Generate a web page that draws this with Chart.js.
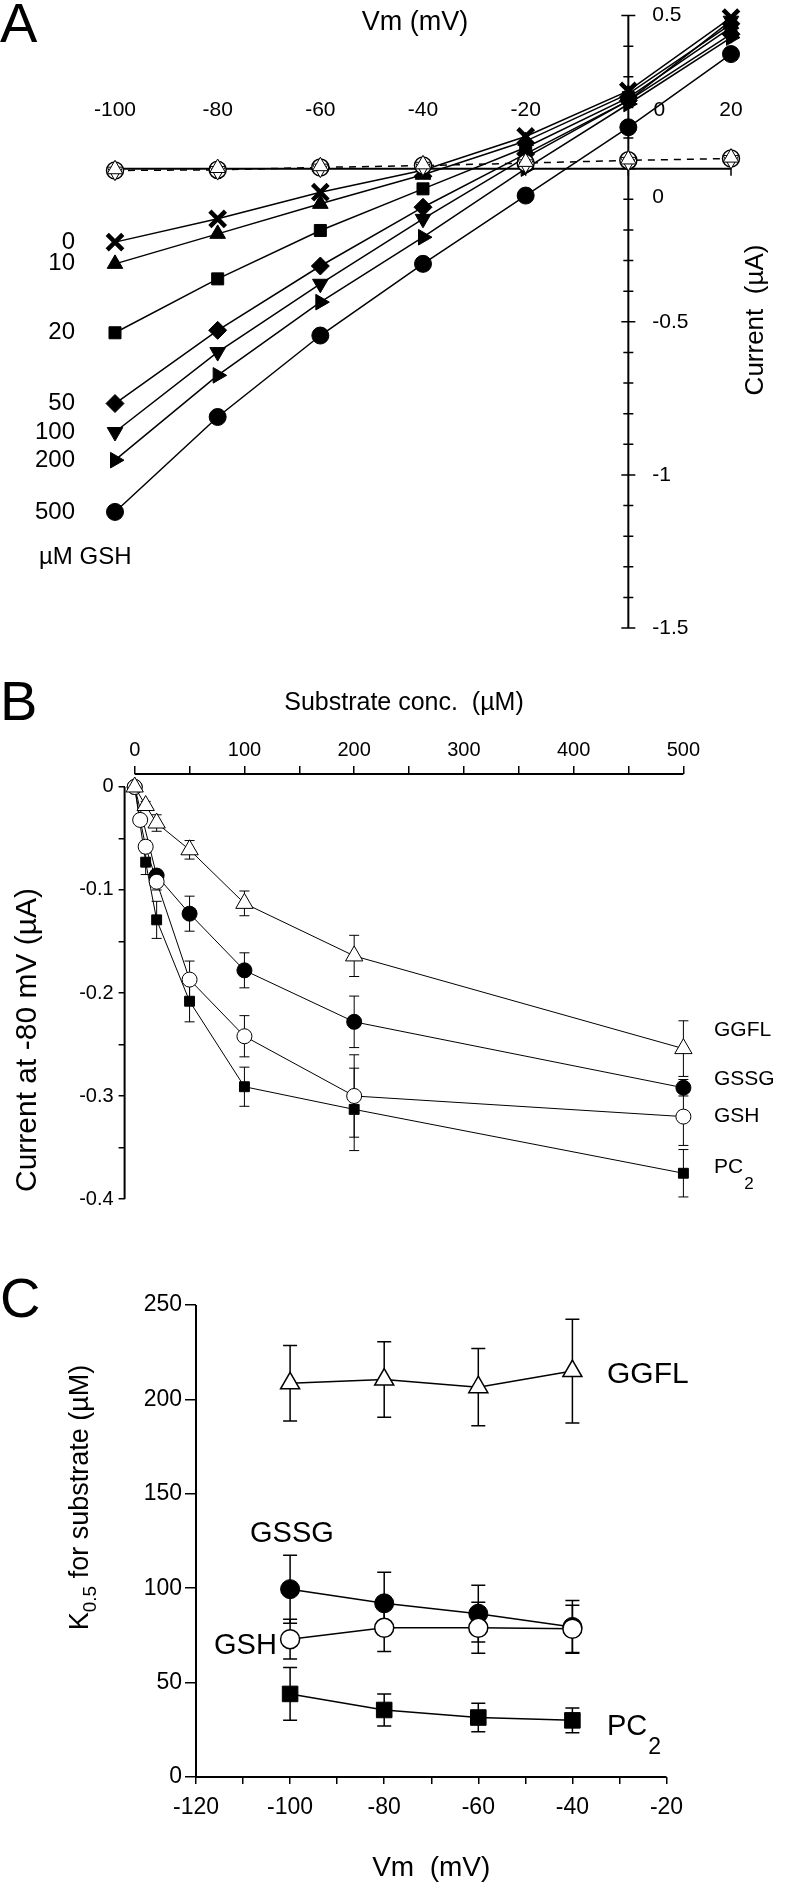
<!DOCTYPE html>
<html>
<head>
<meta charset="utf-8">
<title>GSH currents</title>
<script src="https://cdn.jsdelivr.net/npm/chart.js@4.4.1/dist/chart.umd.min.js"></script>
<style>
  body { margin: 0; background: #fff; }
  #page { position: relative; width: 787px; height: 1885px; overflow: hidden; }
  #page canvas { position: absolute; left: 0; }
</style>
</head>
<body>
<div id="page">
  <canvas id="chartA" width="787" height="660" style="top:0"></canvas>
  <canvas id="chartB" width="787" height="600" style="top:660px"></canvas>
  <canvas id="chartC" width="787" height="635" style="top:1250px"></canvas>
</div>
<script>
// ---- panel A: I-V curves, one per GSH concentration
const vmA = [-100, -80, -60, -40, -20, 0, 20];
const vmTickLabelsA = ["-100", "-80", "-60", "-40", "-20", "0", "20"];
const currentTicksA = [0.5, 0, -0.5, -1, -1.5];
const currentTickLabelsA = ["0.5", "0", "-0.5", "-1", "-1.5"];
const gshConcs = ["0", "10", "20", "50", "100", "200", "500"];
const iGsh0 = [-0.240, -0.164, -0.077, -0.005, 0.105, 0.254, 0.493];
const iGsh10 = [-0.311, -0.213, -0.115, -0.020, 0.090, 0.244, 0.472];
const iGsh20 = [-0.536, -0.360, -0.202, -0.066, 0.069, 0.232, 0.461];
const iGsh50 = [-0.767, -0.528, -0.318, -0.126, 0.048, 0.222, 0.439];
const iGsh100 = [-0.860, -0.599, -0.376, -0.164, 0.037, 0.222, 0.483];
const iGsh200 = [-0.952, -0.675, -0.436, -0.224, 0.000, 0.211, 0.428];
const iGsh500 = [-1.121, -0.811, -0.545, -0.311, -0.088, 0.135, 0.374];
const iCtrlCircle = [-0.006, -0.004, 0.004, 0.010, 0.018, 0.027, 0.033];
const iCtrlUp = [-0.002, 0.002, 0.008, 0.014, 0.022, 0.030, 0.036];
const iCtrlDown = [-0.010, -0.008, 0.000, 0.006, 0.014, 0.022, 0.028];

// ---- panel B: current at -80 mV vs substrate concentration
const concB = [0, 5, 10, 20, 50, 100, 200, 500];
const concTicksB = [0, 50, 100, 150, 200, 250, 300, 350, 400, 450, 500];
const currentTicksB = [0, -0.05, -0.1, -0.15, -0.2, -0.25, -0.3, -0.35, -0.4];
const currentLabelValsB = [0, -0.1, -0.2, -0.3, -0.4];
const currentLabelsB = ["0", "-0.1", "-0.2", "-0.3", "-0.4"];
const ggflB = [0, null, -0.018, -0.035, -0.061, -0.113, -0.164, -0.254];
const gssgB = [0, null, null, -0.086, -0.123, -0.178, -0.228, -0.292];
const gshB = [0, -0.032, -0.058, -0.092, -0.187, -0.242, -0.300, -0.320];
const pc2B = [0, null, -0.073, -0.129, -0.208, -0.291, -0.313, -0.375];
const ggflErrB = [0, 0, 0.004, 0.008, 0.009, 0.012, 0.020, 0.027];
const gssgErrB = [0, 0, 0, 0.005, 0.017, 0.017, 0.025, 0.008];
const gshErrB = [0, 0.004, 0.006, 0.008, 0.018, 0.020, 0.040, 0.028];
const pc2ErrB = [0, 0, 0.012, 0.018, 0.020, 0.019, 0.040, 0.023];

// ---- panel C: K0.5 vs membrane potential
const vmC = [-100, -80, -60, -40];
const vmTicksC = [-120, -110, -100, -90, -80, -70, -60, -50, -40, -30, -20];
const kTicksC = [0, 50, 100, 150, 200, 250];
const ggflC = [208.5, 210.5, 206.5, 215];
const gssgC = [99.5, 92, 86.5, 79.5];
const gshC = [73, 79, 79, 78.5];
const pc2C = [44, 35.5, 31.5, 30];
const ggflErrC = [20, 20, 20.5, 27.5];
const gssgErrC = [18, 16.5, 15, 14];
const gshErrC = [10.5, 12.5, 13.5, 12.5];
const pc2ErrC = [14, 8.5, 7.5, 6.5];

const FONT = '"Liberation Sans", Arial, Helvetica, sans-serif';
Chart.defaults.font.family = FONT;
Chart.defaults.color = "#000";
Chart.defaults.animation = false;
Chart.defaults.plugins.legend.display = false;
Chart.defaults.plugins.tooltip.enabled = false;

function put(ctx, s, x, y, size, align, rot, base) {
  ctx.save();
  ctx.translate(x, y);
  if (rot) ctx.rotate(rot);
  ctx.font = size + "px " + FONT;
  ctx.fillStyle = "#000";
  ctx.textAlign = align || "left";
  ctx.textBaseline = base || "middle";
  ctx.fillText(s, 0, 0);
  ctx.restore();
}

// text with a subscript, left aligned, y = middle of the main text
function putSub(ctx, main, sub, x, y, size, subSize, dy) {
  ctx.save();
  ctx.font = size + "px " + FONT;
  const w = ctx.measureText(main).width;
  ctx.restore();
  put(ctx, main, x, y, size, "left");
  put(ctx, sub, x + w + 1, y + dy, subSize, "left");
}

function series(xs, ys, style) {
  return Object.assign({
    data: xs.map((x, i) => ({ x: x, y: ys[i] })),
    borderColor: "#000",
    borderWidth: 1.5,
    pointBackgroundColor: "#000",
    pointBorderColor: "#000",
    pointBorderWidth: 1,
    spanGaps: true,
    clip: false,
  }, style);
}

const errorBars = {
  id: "errorBars",
  beforeDatasetsDraw(chart, args, opts) {
    const { ctx, scales: { x, y } } = chart;
    ctx.save();
    ctx.strokeStyle = "#000";
    ctx.lineWidth = opts.width;
    chart.data.datasets.forEach((ds) => {
      if (!ds.errors) return;
      ds.data.forEach((p, i) => {
        const e = ds.errors[i];
        if (p.y === null || !e) return;
        const px = x.getPixelForValue(p.x);
        const top = y.getPixelForValue(p.y + e);
        const bot = y.getPixelForValue(p.y - e);
        ctx.beginPath();
        ctx.moveTo(px, top); ctx.lineTo(px, bot);
        ctx.moveTo(px - opts.cap, top); ctx.lineTo(px + opts.cap, top);
        ctx.moveTo(px - opts.cap, bot); ctx.lineTo(px + opts.cap, bot);
        ctx.stroke();
      });
    });
    ctx.restore();
  },
};

// axis lines from the first to the last tick (panels B and C)
const axisLines = {
  id: "axisLines",
  beforeDatasetsDraw(chart) {
    const { ctx, chartArea, scales: { x, y } } = chart;
    const xt = x.ticks, yt = y.ticks;
    const xLineY = x.position === "top" ? chartArea.top : chartArea.bottom;
    ctx.save();
    ctx.strokeStyle = "#000";
    ctx.lineWidth = 2;
    ctx.beginPath();
    ctx.moveTo(x.getPixelForValue(xt[0].value), xLineY);
    ctx.lineTo(x.getPixelForValue(xt[xt.length - 1].value), xLineY);
    ctx.moveTo(chartArea.left, y.getPixelForValue(yt[0].value));
    ctx.lineTo(chartArea.left, y.getPixelForValue(yt[yt.length - 1].value));
    ctx.stroke();
    ctx.restore();
  },
};

// ================= panel A =================
const gshSeries = [iGsh0, iGsh10, iGsh20, iGsh50, iGsh100, iGsh200, iGsh500];
const gshStyles = [
  { pointStyle: "crossRot", pointRadius: 11, pointBorderWidth: 4.5 },
  { pointStyle: "triangle", pointRadius: 9 },
  { pointStyle: "rect", pointRadius: 8.5 },
  { pointStyle: "rectRot", pointRadius: 9 },
  { pointStyle: "triangle", pointRadius: 9, pointRotation: 180 },
  { pointStyle: "triangle", pointRadius: 9, pointRotation: 90 },
  { pointStyle: "circle", pointRadius: 8.5 },
];

const axesA = {
  id: "axesA",
  beforeDatasetsDraw(chart) {
    const { ctx, scales: { x, y } } = chart;
    const x0 = x.getPixelForValue(0), y0 = y.getPixelForValue(0);
    ctx.save();
    ctx.strokeStyle = "#000";
    ctx.lineWidth = 2;
    ctx.beginPath();
    ctx.moveTo(x0, y.getPixelForValue(0.5));
    ctx.lineTo(x0, y.getPixelForValue(-1.5));
    ctx.moveTo(x.getPixelForValue(vmA[0]), y0);
    ctx.lineTo(x.getPixelForValue(vmA[vmA.length - 1]), y0);
    ctx.stroke();
    ctx.lineWidth = 1.5;
    ctx.beginPath();
    for (let k = -15; k <= 5; k++) {
      const py = y.getPixelForValue(k / 10);
      const half = k % 5 === 0 ? 7 : 5;
      ctx.moveTo(x0 - half, py); ctx.lineTo(x0 + half, py);
    }
    vmA.forEach((v) => {
      const px = x.getPixelForValue(v);
      ctx.moveTo(px, y0 - 7); ctx.lineTo(px, y0 + 7);
    });
    ctx.stroke();
    ctx.restore();
  },
};

const textA = {
  id: "textA",
  afterDraw(chart) {
    const { ctx, scales: { x, y } } = chart;
    const x0 = x.getPixelForValue(0), y0 = y.getPixelForValue(0);
    put(ctx, "A", 0, 42, 56, "left", 0, "alphabetic");
    put(ctx, "Vm (mV)", 415, 23, 27, "center");
    vmA.forEach((v, i) => {
      const px = v === 0 ? x0 + 31 : x.getPixelForValue(v);
      put(ctx, vmTickLabelsA[i], px, y0 - 58, 21, "center");
    });
    currentTicksA.forEach((v, i) => {
      const py = v === 0 ? y0 + 29 : y.getPixelForValue(v);
      put(ctx, currentTickLabelsA[i], x0 + 24, py, 21, "left");
    });
    put(ctx, "Current  (\u00b5A)", 756, 320, 26, "center", -Math.PI / 2);
    gshSeries.forEach((s, i) => {
      put(ctx, gshConcs[i], 75, y.getPixelForValue(s[0]), 24, "right");
    });
    put(ctx, "\u00b5M GSH", 39, 557, 24, "left");
  },
};

const openMarker = { pointBackgroundColor: "#fff", showLine: false };
new Chart(document.getElementById("chartA"), {
  type: "line",
  data: {
    datasets: [
      series(vmA, iCtrlUp, Object.assign({ pointStyle: "triangle", pointRadius: 9 }, openMarker)),
      series(vmA, iCtrlDown, Object.assign({ pointStyle: "triangle", pointRadius: 9, pointRotation: 180 }, openMarker)),
      series(vmA, iCtrlCircle, { pointStyle: "circle", pointRadius: 8.5, pointBackgroundColor: "#fff",
        pointBorderWidth: 1.5, borderDash: [7, 6] }),
    ].concat(gshSeries.map((s, i) => series(vmA, s, gshStyles[i]))),
  },
  options: {
    responsive: false,
    devicePixelRatio: 1,
    layout: { padding: { left: 115, right: 56, top: 15, bottom: 32 } },
    scales: {
      x: { type: "linear", min: -100, max: 20, display: false },
      y: { type: "linear", min: -1.5, max: 0.5, display: false },
    },
  },
  plugins: [axesA, textA],
});

// ================= panel B =================
const textB = {
  id: "textB",
  afterDraw(chart) {
    const ctx = chart.ctx;
    put(ctx, "B", 0, 60, 56, "left", 0, "alphabetic");
    put(ctx, "Current at -80 mV (\u00b5A)", 28, 380, 30, "center", -Math.PI / 2);
    put(ctx, "GGFL", 714, 370, 21);
    put(ctx, "GSSG", 714, 419, 21);
    put(ctx, "GSH", 714, 456, 21);
    putSub(ctx, "PC", "2", 714, 507, 21, 17, 17);
  },
};

new Chart(document.getElementById("chartB"), {
  type: "line",
  data: {
    datasets: [
      series(concB, ggflB, { errors: ggflErrB, borderWidth: 1, pointStyle: "triangle", pointRadius: 10,
        pointBackgroundColor: "#fff" }),
      series(concB, gshB, { errors: gshErrB, borderWidth: 1, pointStyle: "circle", pointRadius: 7.5,
        pointBackgroundColor: "#fff" }),
      series(concB, pc2B, { errors: pc2ErrB, borderWidth: 1, pointStyle: "rect", pointRadius: 7 }),
      series(concB, gssgB, { errors: gssgErrB, borderWidth: 1, pointStyle: "circle", pointRadius: 7.5 }),
    ],
  },
  options: {
    responsive: false,
    devicePixelRatio: 1,
    layout: { padding: { left: 0, right: 103.6, top: 0, bottom: 61 } },
    plugins: { errorBars: { width: 1, cap: 5 } },
    scales: {
      x: {
        type: "linear", position: "top", min: -9.2, max: 500,
        afterBuildTicks: (s) => { s.ticks = concTicksB.map((v) => ({ value: v })); },
        afterFit: (s) => { s.height = 114; },
        grid: { drawOnChartArea: false, tickLength: 8, color: "#000", lineWidth: 1.5 },
        border: { display: false },
        ticks: { autoSkip: false, maxRotation: 0, padding: 4, font: { size: 20 },
          callback: (v) => (v % 100 === 0 ? String(v) : "") },
        title: { display: true, text: "Substrate conc.  (\u00b5M)", font: { size: 25 }, padding: { top: 28 } },
      },
      y: {
        type: "linear", min: -0.4, max: 0.0126,
        afterBuildTicks: (s) => { s.ticks = currentTicksB.map((v) => ({ value: v })); },
        afterFit: (s) => { s.width = 124.6; },
        grid: { drawOnChartArea: false, tickLength: 6, color: "#000", lineWidth: 1.5 },
        border: { display: false },
        ticks: { autoSkip: false, padding: 5, font: { size: 20 },
          callback: (v) => {
            const i = currentLabelValsB.findIndex((t) => Math.abs(t - v) < 1e-9);
            return i >= 0 ? currentLabelsB[i] : "";
          } },
      },
    },
  },
  plugins: [axisLines, errorBars, textB],
});

// ================= panel C =================
const textC = {
  id: "textC",
  afterDraw(chart) {
    const ctx = chart.ctx;
    put(ctx, "C", 0, 67, 56, "left", 0, "alphabetic");
    // rotated y title with K0.5 subscript
    ctx.save();
    ctx.translate(78.5, 247.5);
    ctx.rotate(-Math.PI / 2);
    ctx.fillStyle = "#000";
    ctx.textBaseline = "alphabetic";
    ctx.font = "27px " + FONT;
    const wK = ctx.measureText("K").width;
    const rest = " for substrate (\u00b5M)";
    const wRest = ctx.measureText(rest).width;
    ctx.font = "19px " + FONT;
    const wSub = ctx.measureText("0.5").width;
    let cx = -(wK + wSub + wRest) / 2;
    const base = 0.36 * 27;
    ctx.font = "27px " + FONT;
    ctx.fillText("K", cx, base);
    cx += wK;
    ctx.font = "19px " + FONT;
    ctx.fillText("0.5", cx, base + 8);
    cx += wSub;
    ctx.font = "27px " + FONT;
    ctx.fillText(rest, cx, base);
    ctx.restore();
    put(ctx, "GGFL", 607, 125, 30);
    put(ctx, "GSSG", 250, 284, 29);
    put(ctx, "GSH", 214, 396, 29);
    putSub(ctx, "PC", "2", 607, 477, 29, 23, 21);
  },
};

new Chart(document.getElementById("chartC"), {
  type: "line",
  data: {
    datasets: [
      series(vmC, ggflC, { errors: ggflErrC, pointStyle: "triangle", pointRadius: 11,
        pointBackgroundColor: "#fff", pointBorderWidth: 1.5 }),
      series(vmC, pc2C, { errors: pc2ErrC, pointStyle: "rect", pointRadius: 11 }),
      series(vmC, gshC, { errors: gshErrC, pointStyle: "circle", pointRadius: 9.5,
        pointBackgroundColor: "#fff", pointBorderWidth: 1.5 }),
      series(vmC, gssgC, { errors: gssgErrC, pointStyle: "circle", pointRadius: 9.5 }),
    ],
  },
  options: {
    responsive: false,
    devicePixelRatio: 1,
    layout: { padding: { left: 0, right: 120.5, top: 55, bottom: 0 } },
    plugins: { errorBars: { width: 1.5, cap: 7 } },
    scales: {
      x: {
        type: "linear", position: "bottom", min: -120, max: -20,
        afterBuildTicks: (s) => { s.ticks = vmTicksC.map((v) => ({ value: v })); },
        afterFit: (s) => { s.height = 108; },
        grid: { drawOnChartArea: false, tickLength: 7, color: "#000", lineWidth: 1.5 },
        border: { display: false },
        ticks: { autoSkip: false, maxRotation: 0, padding: 10, font: { size: 23 },
          callback: (v) => (v % 20 === 0 ? String(v) : "") },
        title: { display: true, text: "Vm  (mV)", font: { size: 28 }, padding: { top: 0, bottom: 0 } },
      },
      y: {
        type: "linear", min: 0, max: 250,
        afterBuildTicks: (s) => { s.ticks = kTicksC.map((v) => ({ value: v })); },
        afterFit: (s) => { s.width = 196; },
        grid: { drawOnChartArea: false, tickLength: 11, color: "#000", lineWidth: 1.5 },
        border: { display: false },
        ticks: { autoSkip: false, padding: 3, font: { size: 23 } },
      },
    },
  },
  plugins: [axisLines, errorBars, textC],
});
</script>
</body>
</html>
